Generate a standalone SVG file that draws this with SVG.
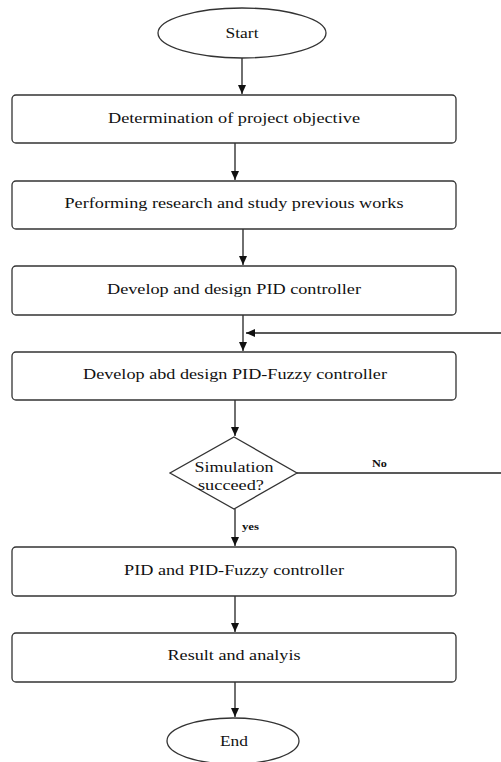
<svg xmlns="http://www.w3.org/2000/svg" width="501" height="762" viewBox="0 0 501 762">
<defs>
<marker id="ah" markerWidth="10" markerHeight="10" refX="9" refY="4" orient="auto" markerUnits="userSpaceOnUse">
<path d="M0,0 L9,4 L0,8 Z" fill="#111"/>
</marker>
<style>
.box{fill:#fff;stroke:#333;stroke-width:1.3}
.t{font-family:"Liberation Serif","Times New Roman",serif;font-size:15px;fill:#111;text-anchor:middle;dominant-baseline:central}
.lb{font-family:"Liberation Serif","Times New Roman",serif;font-size:11px;font-weight:bold;fill:#111}
.c{fill:none;stroke:#222;stroke-width:1.3}
</style>
</defs>
<rect width="501" height="762" fill="#fff"/>
<g id="connectors">
<line class="c" x1="242" y1="58" x2="242" y2="94" marker-end="url(#ah)"/>
<line class="c" x1="235" y1="143" x2="235" y2="180" marker-end="url(#ah)"/>
<line class="c" x1="243" y1="229" x2="243" y2="265" marker-end="url(#ah)"/>
<line class="c" x1="243" y1="315" x2="243" y2="351" marker-end="url(#ah)"/>
<line class="c" x1="501" y1="333" x2="246" y2="333" marker-end="url(#ah)"/>
<line class="c" x1="235" y1="400" x2="235" y2="436" marker-end="url(#ah)"/>
<line class="c" x1="297" y1="473" x2="501" y2="473"/>
<text class="lb" x="372" y="467" textLength="15" lengthAdjust="spacingAndGlyphs">No</text>
<line class="c" x1="235" y1="509" x2="235" y2="546" marker-end="url(#ah)"/>
<text class="lb" x="242" y="530" textLength="17" lengthAdjust="spacingAndGlyphs">yes</text>
<line class="c" x1="235" y1="596" x2="235" y2="632" marker-end="url(#ah)"/>
<line class="c" x1="235" y1="682" x2="235" y2="717" marker-end="url(#ah)"/>
</g>
<g id="start">
<ellipse class="box" cx="242" cy="33" rx="84" ry="25"/>
<text class="t" x="242" y="33" textLength="33" lengthAdjust="spacingAndGlyphs">Start</text>
</g>
<g id="n1">
<rect class="box" x="12" y="95" width="444" height="48" rx="4"/>
<text class="t" x="234" y="118" textLength="252" lengthAdjust="spacingAndGlyphs">Determination of project objective</text>
</g>
<g id="n2">
<rect class="box" x="12" y="181" width="444" height="48" rx="4"/>
<text class="t" x="234" y="203" textLength="339" lengthAdjust="spacingAndGlyphs">Performing research and study previous works</text>
</g>
<g id="n3">
<rect class="box" x="12" y="266" width="444" height="49" rx="4"/>
<text class="t" x="234" y="289" textLength="254" lengthAdjust="spacingAndGlyphs">Develop and design PID controller</text>
</g>
<g id="n4">
<rect class="box" x="12" y="352" width="444" height="48" rx="4"/>
<text class="t" x="235" y="374" textLength="304" lengthAdjust="spacingAndGlyphs">Develop abd design PID-Fuzzy controller</text>
</g>
<g id="decision">
<polygon class="box" points="234,437 297,473 234,509 170,473"/>
<text class="t" x="234" y="467" textLength="79" lengthAdjust="spacingAndGlyphs">Simulation</text>
<text class="t" x="231" y="485" textLength="66" lengthAdjust="spacingAndGlyphs">succeed?</text>
</g>
<g id="n5">
<rect class="box" x="12" y="547" width="444" height="49" rx="4"/>
<text class="t" x="234" y="570" textLength="220" lengthAdjust="spacingAndGlyphs">PID and PID-Fuzzy controller</text>
</g>
<g id="n6">
<rect class="box" x="12" y="633" width="444" height="49" rx="4"/>
<text class="t" x="234" y="655" textLength="133" lengthAdjust="spacingAndGlyphs">Result and analyis</text>
</g>
<g id="end">
<ellipse class="box" cx="233" cy="741" rx="66" ry="23"/>
<text class="t" x="234" y="741" textLength="28" lengthAdjust="spacingAndGlyphs">End</text>
</g>
</svg>
